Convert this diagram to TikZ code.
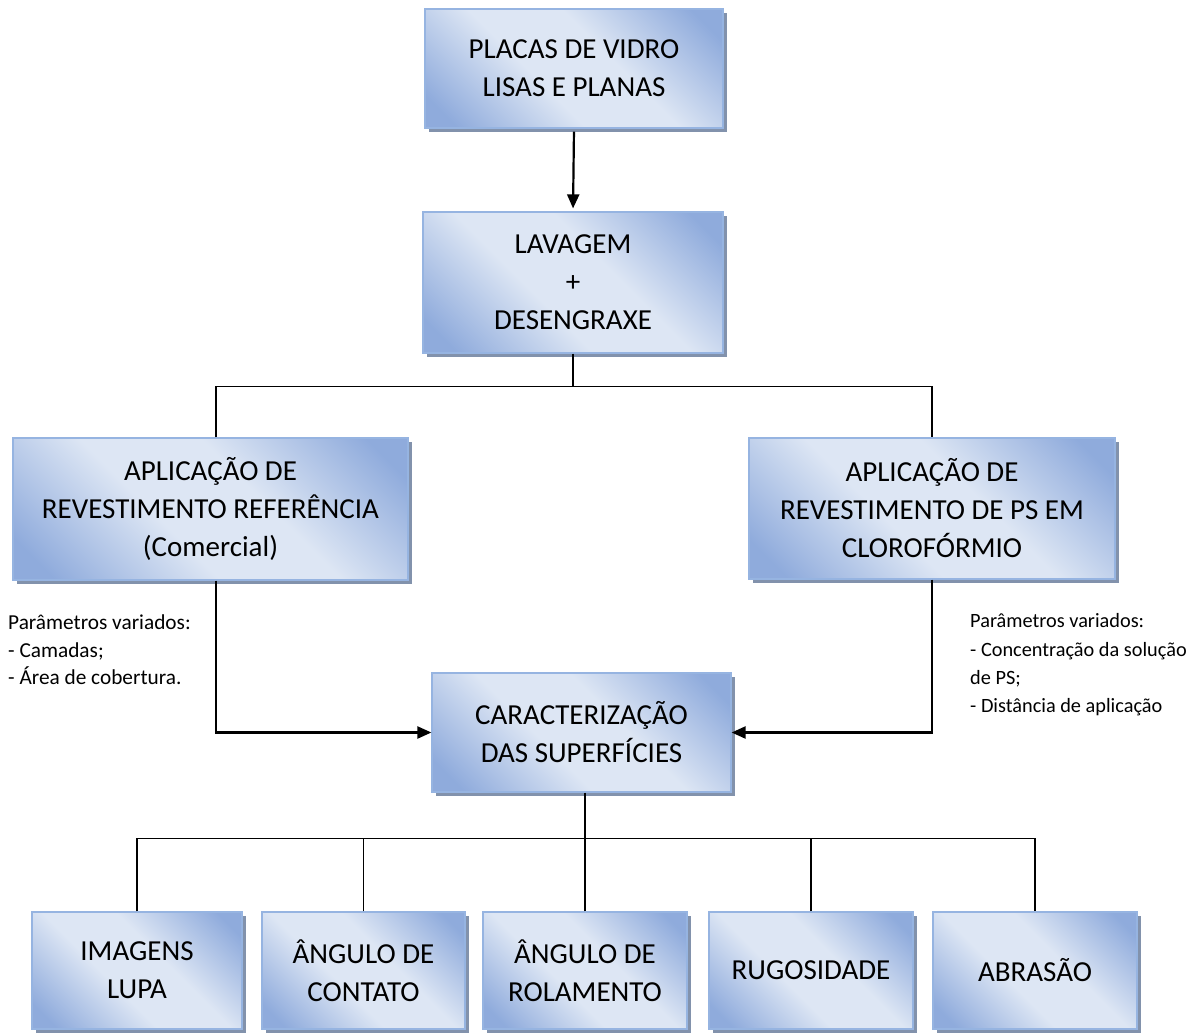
\documentclass[tikz,border=0pt]{standalone}
\usepackage{fontspec}
\setmainfont{Carlito}
\usetikzlibrary{arrows.meta,shadows}
\definecolor{bdark}{RGB}{143,171,220}
\definecolor{blight}{RGB}{221,230,244}
\definecolor{bborder}{RGB}{150,180,225}
\definecolor{bshadow}{RGB}{130,146,172}
\pgfdeclareverticalshading{boxshade}{100bp}{color(0bp)=(bdark); color(20bp)=(bdark); color(42bp)=(blight); color(58bp)=(blight); color(80bp)=(bdark); color(100bp)=(bdark)}
\tikzset{
  box/.style={draw=bborder, line width=1.2pt, shading=boxshade, shading angle=-45,
    drop shadow={shadow xshift=4pt, shadow yshift=-4pt, fill=bshadow, opacity=1},
    align=center, font=\fontsize{29}{38}\selectfont, inner sep=0pt},
  note/.style={align=left, font=\fontsize{21.3}{27.5}\selectfont, inner sep=0pt},
  noteR/.style={align=left, font=\fontsize{20.3}{28.3}\selectfont, inner sep=0pt},
  arr/.style={line width=2.2pt, -{Triangle[length=14pt,width=12pt]}},
  tree/.style={line width=1.5pt}
}
\begin{document}
\begin{tikzpicture}[x=1pt,y=-1pt]
\useasboundingbox (0,0) rectangle (1194,1033);
\node[box, minimum width=298pt, minimum height=119pt] (placas) at (574,68.5) {PLACAS DE VIDRO\\LISAS E PLANAS};
\node[box, minimum width=300pt, minimum height=141pt] (lavagem) at (573,282.5) {LAVAGEM\\+\\DESENGRAXE};
\node[box, minimum width=395pt, minimum height=142pt] (aplicL) at (210.5,509) {APLICAÇÃO DE\\REVESTIMENTO REFERÊNCIA\\(Comercial)};
\node[box, minimum width=366pt, minimum height=141pt] (aplicR) at (932,508.5) {APLICAÇÃO DE\\REVESTIMENTO DE PS EM\\CLOROFÓRMIO};
\node[box, minimum width=299pt, minimum height=119pt] (caract) at (581.5,732.5) {CARACTERIZAÇÃO\\DAS SUPERFÍCIES};
\node[box, minimum width=210pt, minimum height=117pt] (imagens) at (137,970.5) {IMAGENS\\LUPA};
\node[box, minimum width=203pt, minimum height=117pt] (contato) at (363.5,970.5) {ÂNGULO DE\\CONTATO};
\node[box, minimum width=204pt, minimum height=117pt] (rolamento) at (585,970.5) {ÂNGULO DE\\ROLAMENTO};
\node[box, minimum width=204pt, minimum height=117pt] (rugosidade) at (811,970.5) {RUGOSIDADE};
\node[box, minimum width=204pt, minimum height=117pt] (abrasao) at (1035,970.5) {ABRASÃO};

\node[note, anchor=north west] (pL) at (8,615) {Parâmetros variados:\\- Camadas;\\- Área de cobertura.};
\node[noteR, anchor=north west] (pR) at (970,613.5) {Parâmetros variados:\\- Concentração da solução\\de PS;\\- Distância de aplicação};

\draw[arr, shorten <=3pt, shorten >=3pt] (placas.south) -- (lavagem.north);
\draw[tree] (lavagem.south) -- ++(0,33) coordinate (j1);
\draw[tree] ([xshift=5.5pt]aplicL.north) |- (j1) -| (aplicR.north);
\draw[arr] ([xshift=5.5pt]aplicL.south) |- (caract.west);
\draw[arr] (aplicR.south) |- (caract.east);
\draw[tree] ([xshift=3.5pt]caract.south) -- ++(0,46) coordinate (j2);
\draw[tree] (imagens.north) |- (j2) -| (abrasao.north);
\draw[tree] (contato.north) -- (contato.north |- j2);
\draw[tree] (rolamento.north) -- (rolamento.north |- j2);
\draw[tree] (rugosidade.north) -- (rugosidade.north |- j2);
\end{tikzpicture}
\end{document}
